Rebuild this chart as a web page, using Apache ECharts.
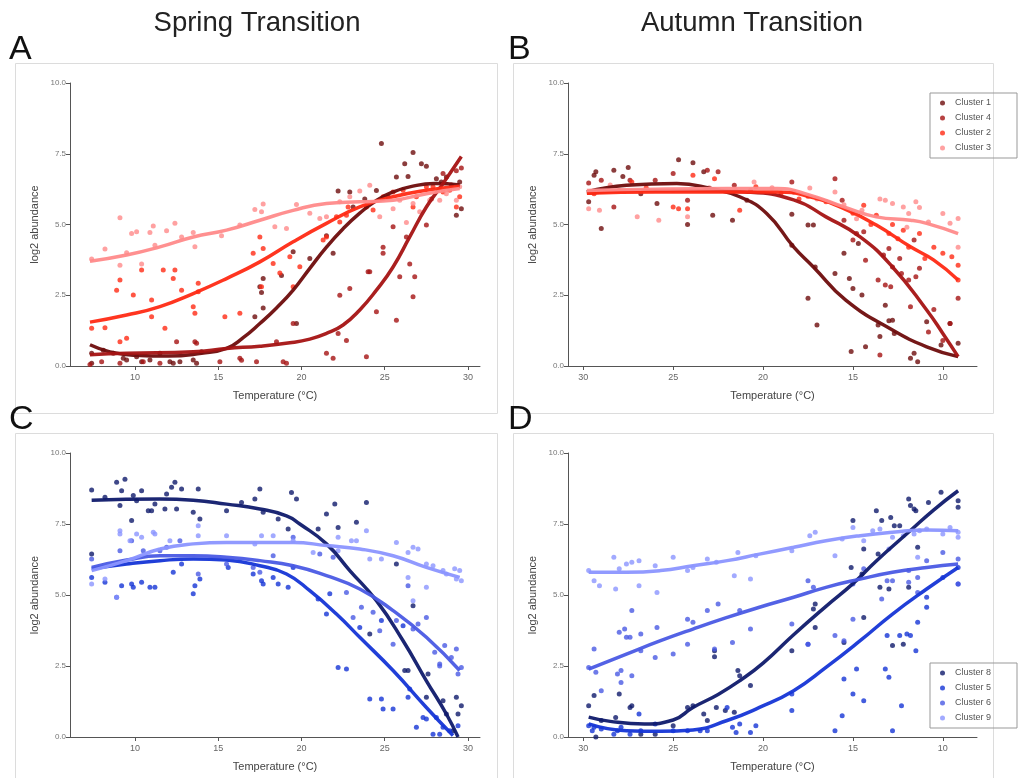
<!DOCTYPE html>
<html><head><meta charset="utf-8">
<script src="https://cdn.jsdelivr.net/npm/echarts@6/dist/echarts.min.js"></script>
<style>html,body{margin:0;padding:0;background:#fff}#c{width:1018px;height:778px}</style>
</head><body><div id="c"></div>
<script>
// ---------- tick labels / names ----------
const xTicks = [10, 15, 20, 25, 30];
const redNames = ['Cluster 1', 'Cluster 4', 'Cluster 2', 'Cluster 3'];
const blueNames = ['Cluster 8', 'Cluster 5', 'Cluster 6', 'Cluster 9'];
const panelTitles = ['Spring Transition', 'Autumn Transition'];
const panelLetters = ['A', 'B', 'C', 'D'];

// ---------- Panel A: spring, red clusters ----------
const springC1Pts = [[7.4,0.45],[7.4,0.1],[8.1,0.56],[8.7,0.45],[9.3,0.27],[9.5,0.21],[10.1,0.33],[10.4,0.15],[10.9,0.21],[11.5,0.45],[12.1,0.15],[12.3,0.1],[12.7,0.15],[13.5,0.21],[13.7,0.1],[14.0,0.5],[17.2,1.74],[17.5,2.8],[17.6,2.6],[17.7,2.05],[17.7,3.09],[18.8,3.2],[19.5,4.04],[19.7,1.5],[20.5,3.8],[21.5,4.6],[21.9,3.98],[22.2,6.18],[22.9,6.15],[23.1,5.62],[23.8,5.9],[24.5,6.2],[24.8,7.86],[25.2,5.98],[25.7,6.68],[26.2,7.15],[26.4,6.7],[26.7,7.54],[27.2,7.15],[27.5,7.06],[28.1,6.62],[28.4,6.5],[28.7,6.68],[29.3,5.33],[29.5,6.5],[29.6,5.56]];
const springC1Fit = [[7.3,0.75],[8.5,0.5],[10,0.38],[12,0.35],[14,0.45],[15.5,0.62],[16.5,1.0],[17.5,1.5],[18.5,2.05],[19.5,2.68],[20.5,3.45],[21.5,4.2],[22.5,4.85],[23.5,5.4],[24.5,5.85],[25.5,6.15],[26.5,6.33],[28,6.45],[29.5,6.4]];
const springC4Pts = [[7.3,0.05],[8.0,0.15],[9.1,0.1],[10.5,0.15],[11.5,0.1],[12.5,0.86],[13.6,0.86],[13.7,0.8],[15.1,0.15],[16.3,0.27],[16.4,0.2],[17.3,0.15],[18.5,0.86],[18.9,0.15],[19.1,0.1],[19.5,1.5],[21.5,0.45],[21.9,0.27],[22.2,1.15],[22.7,0.9],[22.9,2.74],[22.3,2.5],[23.9,0.33],[24.0,3.33],[24.1,3.33],[24.5,1.92],[24.9,3.98],[24.9,4.2],[25.5,4.92],[25.7,1.62],[25.9,3.15],[26.3,4.56],[26.5,3.6],[26.7,2.45],[26.8,3.15],[27.5,4.98],[27.8,5.9],[28.5,6.8],[29.0,6.4],[29.3,6.9],[29.6,7.0]];
const springC4Fit = [[7.3,0.4],[9.5,0.45],[13.5,0.5],[15.5,0.62],[17.5,0.7],[19.3,0.82],[20.5,0.95],[21.5,1.15],[22.5,1.45],[23.5,1.98],[24.5,2.68],[25.5,3.5],[26.5,4.56],[27.5,5.62],[28.5,6.45],[29.6,7.4]];
const springC2Pts = [[7.4,1.33],[8.2,1.35],[9.1,0.86],[9.5,0.98],[9.1,3.04],[8.9,2.68],[9.9,2.51],[10.4,3.39],[11.0,2.33],[11.0,1.74],[11.7,3.39],[11.8,1.33],[12.3,3.09],[12.4,3.39],[12.8,2.68],[13.5,2.09],[13.6,1.86],[13.8,2.62],[13.8,2.92],[15.4,1.74],[16.3,1.86],[17.1,3.98],[17.5,4.56],[17.7,4.15],[17.6,2.8],[18.3,3.62],[18.7,3.29],[19.3,3.86],[19.5,2.8],[19.9,3.51],[21.3,4.45],[21.5,4.56],[22.1,5.27],[22.3,5.09],[22.7,5.33],[22.8,5.62],[23.9,5.62],[24.3,5.51],[24.9,5.98],[25.5,6.15],[26.1,6.21],[26.7,5.62],[26.9,5.98],[27.5,6.33],[27.9,6.33],[28.5,6.15],[28.9,6.21],[29.5,5.98],[29.3,5.62]];
const springC2Fit = [[7.3,1.55],[9.5,1.8],[11.5,2.1],[13.5,2.56],[15.5,3.09],[17.5,3.68],[19.5,4.39],[21.5,5.04],[23.5,5.62],[25.5,5.98],[27.5,6.21],[29.5,6.35]];
const springC3Pts = [[7.4,3.78],[8.2,4.13],[9.1,5.24],[9.1,3.56],[9.5,4.0],[9.8,4.68],[10.1,4.74],[10.4,3.6],[10.9,4.72],[11.1,4.95],[11.2,4.27],[11.9,4.78],[12.4,5.04],[12.8,4.56],[13.5,4.72],[13.6,4.21],[15.2,4.6],[16.3,4.98],[17.2,5.53],[17.7,5.72],[17.6,5.45],[18.4,4.92],[19.1,4.86],[19.7,5.71],[20.5,5.4],[21.1,5.21],[21.5,5.27],[22.3,5.8],[22.9,5.98],[23.5,6.18],[24.1,6.39],[24.7,5.27],[25.5,5.56],[25.9,5.86],[26.3,5.07],[26.7,5.74],[27.1,5.45],[27.7,5.86],[28.3,5.86],[28.7,6.09],[29.3,5.86],[29.5,6.33]];
const springC3Fit = [[7.3,3.7],[9.5,3.92],[11.5,4.21],[13.5,4.56],[15.5,4.8],[17.5,5.15],[19.5,5.5],[21.5,5.74],[23.5,5.8],[25.5,5.86],[27.5,6.09],[29.5,6.27]];

// ---------- Panel B: autumn, red clusters ----------
const autumnC1Pts = [[29.7,5.8],[29.4,6.74],[29.3,6.86],[29.0,4.86],[28.3,6.92],[27.8,6.7],[27.5,7.01],[26.8,6.09],[25.9,5.74],[24.7,7.29],[24.2,5.0],[23.9,7.18],[23.3,6.86],[22.8,5.33],[21.7,5.15],[20.9,5.86],[18.4,5.36],[18.4,4.27],[17.5,4.98],[17.2,4.98],[17.1,3.5],[17.5,2.39],[17.0,1.45],[16.0,3.27],[15.5,3.98],[15.2,3.09],[15.1,0.51],[15.0,2.74],[14.7,4.33],[14.5,2.51],[14.3,0.68],[13.6,1.45],[13.5,1.04],[13.2,2.15],[13.0,1.6],[12.8,1.62],[12.7,1.15],[11.8,0.27],[11.6,0.45],[11.4,0.15],[10.9,1.56],[10.1,0.74],[9.6,1.5],[9.15,0.8]];
const autumnC1Fit = [[29.8,6.15],[27.6,6.39],[24.8,6.45],[22.9,6.27],[21.3,5.98],[19.8,5.39],[18.3,4.21],[17.2,3.5],[15.4,2.33],[12.8,1.27],[10.9,0.68],[9.15,0.33]];
const autumnC4Pts = [[29.7,6.47],[29.0,6.56],[28.3,5.62],[27.4,6.56],[26.0,6.56],[25.0,6.8],[24.2,5.86],[23.1,6.92],[22.5,6.86],[21.6,6.39],[18.4,6.5],[18.3,6.15],[16.0,6.62],[15.6,5.86],[15.5,5.15],[15.0,4.45],[14.8,4.68],[14.4,4.74],[14.3,3.74],[13.6,3.04],[13.5,0.39],[13.3,3.92],[13.2,2.86],[13.0,4.15],[12.9,2.8],[12.8,3.5],[12.4,3.8],[12.3,3.27],[11.9,3.04],[11.8,2.09],[11.6,4.45],[11.5,3.15],[11.3,3.45],[10.8,1.2],[10.5,2.0],[10.0,0.9],[9.6,1.5],[9.15,2.39]];
const autumnC4Fit = [[29.8,6.1],[27,6.2],[24,6.2],[21,6.15],[18.3,5.87],[16.5,5.27],[14.6,4.56],[12.8,3.5],[10.9,1.98],[10.0,1.15],[9.15,0.33]];
const autumnC2Pts = [[29.4,6.09],[28.0,6.2],[27.3,6.5],[26.5,6.3],[25.0,5.62],[24.7,5.56],[24.2,5.56],[23.9,6.74],[22.7,6.62],[21.3,5.5],[20.7,6.2],[20.4,6.33],[19.0,6.1],[18.0,5.9],[17.5,6.0],[16.5,5.8],[15.0,5.4],[14.4,5.68],[14.0,5.0],[13.7,5.33],[13.0,4.68],[12.8,5.0],[12.5,4.5],[12.2,4.8],[11.9,4.2],[11.3,4.68],[11.0,3.8],[10.5,4.2],[10.0,3.98],[9.5,3.86],[9.15,3.56],[9.15,3.04]];
const autumnC2Fit = [[29.8,6.1],[26,6.15],[22,6.15],[19.2,6.15],[17.4,5.98],[15.5,5.56],[13.7,4.98],[11.8,4.21],[10.5,3.74],[9.15,3.04]];
const autumnC3Pts = [[29.7,5.56],[29.1,5.5],[28.5,6.4],[27.0,5.27],[25.8,5.15],[25.0,6.2],[24.2,5.27],[23.0,6.3],[21.5,6.2],[20.5,6.5],[19.5,6.3],[17.4,6.29],[17.0,5.9],[16.0,6.15],[15.5,5.7],[14.8,5.2],[14.5,5.5],[13.5,5.9],[13.2,5.86],[12.8,5.74],[12.2,5.62],[12.0,4.9],[11.9,5.39],[11.5,5.8],[11.3,5.6],[10.8,5.09],[10.0,5.39],[9.6,5.04],[9.15,5.21],[9.15,4.2]];
const autumnC3Fit = [[29.8,6.2],[26,6.25],[22,6.27],[19.2,6.27],[17.4,6.04],[15.5,5.62],[13.7,5.27],[11.8,5.15],[10.9,5.04],[9.15,4.68]];

// ---------- Panel C: spring, blue clusters ----------
const springC8Pts = [[7.4,8.7],[7.4,6.44],[8.2,8.44],[8.9,8.97],[9.1,8.15],[9.2,8.67],[9.4,9.08],[9.8,7.62],[9.9,8.5],[10.1,8.32],[10.4,8.67],[10.8,7.97],[11.0,7.97],[11.2,8.2],[11.8,8.03],[11.9,8.56],[12.2,8.79],[12.4,8.97],[12.5,8.03],[12.8,8.73],[13.5,7.91],[13.8,8.73],[13.9,7.68],[15.5,7.97],[16.4,8.26],[17.2,8.38],[17.5,8.73],[17.7,7.91],[18.6,7.68],[19.2,7.32],[19.4,8.61],[19.7,8.38],[21.0,7.32],[21.5,7.85],[22.0,8.2],[22.2,7.38],[23.3,7.56],[23.9,8.26],[24.1,3.63],[25.7,6.09],[26.7,4.62],[26.2,2.34],[26.4,2.34],[27.5,1.4],[27.6,2.22],[28.5,1.28],[28.7,0.81],[29.1,0.22],[29.3,1.4],[29.4,0.81],[29.6,1.1]];
const springC8Fit = [[7.4,8.34],[11.5,8.38],[13.5,8.34],[15.5,8.2],[17.5,8.03],[19.1,7.79],[19.9,7.5],[21.5,6.8],[22.9,5.86],[24.5,4.8],[26.1,3.39],[27.5,1.98],[28.7,0.81],[29.4,0]];
const springC5Pts = [[7.4,5.62],[8.2,5.45],[8.9,4.92],[9.2,5.33],[9.8,5.39],[9.9,5.27],[10.4,5.45],[10.9,5.27],[11.2,5.27],[12.3,5.8],[12.8,6.09],[13.5,5.04],[13.6,5.33],[13.9,5.56],[15.6,5.97],[17.1,5.74],[17.6,5.5],[17.7,5.39],[18.3,5.62],[18.6,5.39],[19.2,5.27],[19.5,5.97],[21.0,4.86],[21.5,4.33],[21.7,5.04],[22.2,2.45],[22.7,2.39],[23.5,3.86],[24.1,1.34],[24.8,1.34],[24.8,4.1],[24.9,0.99],[25.5,0.99],[26.1,3.92],[26.4,1.4],[26.5,1.69],[26.9,0.34],[27.3,0.69],[27.5,0.63],[27.9,0.1],[28.1,0.69],[28.3,0.1],[28.5,0.34],[28.9,0.22],[29.4,0.4]];
const springC5Fit = [[7.4,5.92],[9.5,6.09],[11.5,6.21],[13.5,6.27],[15.5,6.23],[17.5,6.03],[19.1,5.74],[20.5,5.15],[22.1,4.33],[23.5,3.51],[25.5,2.34],[27.5,1.04],[29.1,0.05]];
const springC6Pts = [[7.4,6.27],[9.1,6.56],[9.8,6.91],[10.5,6.56],[11.5,6.56],[11.9,6.68],[12.7,6.91],[13.8,5.74],[15.5,6.09],[17.1,5.97],[17.5,5.8],[18.3,6.38],[19.5,7.03],[21.1,6.44],[21.9,6.33],[22.7,5.09],[23.1,4.21],[23.6,4.57],[24.3,4.39],[24.7,3.74],[25.5,3.27],[25.7,4.1],[26.4,5.33],[26.7,3.8],[27.0,3.98],[27.5,4.21],[28.0,2.98],[28.3,2.57],[28.3,2.5],[28.6,3.22],[29.0,2.8],[29.3,3.1],[29.4,2.22],[29.6,2.45]];
const springC6Fit = [[7.4,5.97],[9.5,6.23],[11.5,6.38],[13.5,6.38],[15.5,6.33],[17.5,6.21],[19.5,6.03],[21.5,5.68],[23.5,5.21],[25.5,4.45],[27.5,3.51],[29.5,2.34]];
const springC9Pts = [[7.4,5.39],[8.2,5.56],[8.9,4.92],[9.1,7.26],[9.1,7.15],[9.7,6.91],[10.1,7.15],[10.4,7.03],[11.1,7.21],[11.2,7.15],[12.1,6.91],[13.8,7.44],[13.8,7.09],[15.5,7.09],[17.2,6.8],[17.6,7.09],[18.3,7.09],[19.5,6.91],[20.7,6.5],[22.2,7.03],[22.2,6.56],[23.0,6.91],[23.3,6.91],[23.9,7.26],[24.1,6.27],[24.8,6.27],[25.7,6.85],[26.4,6.5],[26.4,5.62],[26.7,6.68],[26.7,4.8],[27.0,6.62],[27.5,6.09],[27.5,5.27],[27.9,6.03],[28.5,5.86],[28.7,5.74],[29.2,5.92],[29.3,5.56],[29.5,5.86],[29.6,5.5]];
const springC9Fit = [[7.4,5.86],[9.5,6.21],[11.5,6.62],[13.5,6.8],[15.5,6.85],[17.5,6.85],[19.5,6.85],[21.5,6.74],[23.5,6.62],[25.5,6.38],[27.5,5.97],[29.5,5.62]];

// ---------- Panel D: autumn, blue clusters ----------
const autumnC8Pts = [[29.7,1.1],[29.4,1.46],[29.3,0.0],[29.0,0.58],[28.2,0.69],[28.0,1.51],[27.4,1.04],[27.3,1.1],[26.8,0.1],[26.0,0.1],[25.0,0.4],[24.2,1.04],[23.9,1.1],[23.3,0.81],[23.1,0.58],[22.7,2.83],[22.7,3.04],[22.6,1.04],[22.1,0.93],[21.6,0.87],[21.4,2.34],[21.3,2.16],[20.7,1.81],[18.4,3.04],[17.2,4.51],[17.1,4.68],[17.1,3.86],[15.5,3.33],[15.1,5.97],[15.0,7.62],[14.5,5.74],[14.4,6.62],[14.4,4.21],[13.7,7.97],[13.6,6.44],[13.5,5.27],[13.4,7.62],[13.0,5.21],[12.9,7.73],[12.8,3.22],[12.7,7.44],[12.4,7.44],[12.2,3.27],[11.9,8.38],[11.9,5.27],[11.8,8.15],[11.6,8.03],[11.5,7.97],[11.4,6.68],[10.8,8.26],[10.1,8.62],[9.15,8.32],[9.15,8.09]];
const autumnC8Fit = [[29.7,0.7],[28.5,0.55],[26.6,0.46],[25,0.6],[23.9,1.04],[22.5,1.5],[21.3,1.98],[20,2.6],[18.3,3.6],[16.5,4.6],[15,5.4],[13.7,6.2],[11.8,7.27],[10.5,8.0],[9.15,8.67]];
const autumnC5Pts = [[29.7,0.4],[29.5,0.22],[29.4,0.34],[29.0,0.28],[28.3,0.1],[28.1,0.22],[27.9,0.34],[27.4,0.1],[26.9,0.81],[26.8,0.22],[26.0,0.46],[25.0,0.22],[24.2,0.22],[23.5,0.22],[23.1,0.22],[22.0,1.04],[21.7,0.34],[21.5,0.16],[21.3,0.46],[20.7,0.16],[20.4,0.4],[18.4,0.93],[18.4,1.51],[17.5,3.27],[16.0,0.22],[15.6,0.75],[15.5,2.04],[15.0,1.51],[14.8,2.39],[14.4,1.28],[13.2,2.39],[13.1,3.57],[13.0,2.1],[12.8,0.22],[12.4,3.57],[12.3,1.1],[12.0,3.63],[11.8,3.57],[11.5,3.04],[11.4,4.04],[10.9,4.57],[10.9,4.92],[10.0,5.62],[9.15,5.39],[9.15,5.97]];
const autumnC5Fit = [[29.7,0.46],[27.6,0.22],[25.7,0.2],[23.9,0.25],[22.0,0.58],[20.2,1.04],[18.3,1.63],[16.5,2.45],[14.6,3.39],[12.8,4.33],[10.9,5.21],[9.15,5.97]];
const autumnC6Pts = [[29.7,2.45],[29.4,3.1],[29.3,2.28],[29.0,1.63],[28.1,2.22],[28.0,3.69],[27.9,2.34],[27.9,1.92],[27.7,3.8],[27.6,3.51],[27.4,3.51],[27.3,4.45],[27.3,2.16],[26.8,3.63],[26.8,3.04],[25.9,3.86],[26.0,2.8],[25.0,2.92],[24.2,4.15],[24.2,3.27],[23.9,4.04],[23.1,4.45],[22.7,3.1],[22.5,4.68],[21.7,3.33],[21.3,4.45],[20.7,3.8],[18.4,3.98],[17.5,5.5],[17.2,5.27],[17.5,3.27],[16.0,3.57],[15.5,3.39],[15.0,5.39],[15.0,4.15],[14.4,5.92],[13.4,4.86],[13.1,5.5],[12.8,5.5],[11.9,5.45],[11.9,5.86],[11.4,5.62],[11.4,5.09],[10.9,6.21],[10.0,6.5],[9.15,5.39],[9.15,6.27]];
const autumnC6Fit = [[29.7,2.39],[27.6,2.92],[25.7,3.39],[23.9,3.8],[22.0,4.21],[20.2,4.57],[18.3,4.92],[16.5,5.27],[14.6,5.56],[12.8,5.8],[10.9,5.97],[9.15,6.09]];
const autumnC9Pts = [[29.7,5.86],[29.4,5.5],[29.1,5.33],[28.3,6.33],[28.2,5.21],[28.0,5.92],[27.6,6.09],[27.3,6.15],[26.9,6.21],[26.9,5.33],[25.9,5.09],[26.0,6.03],[25.0,6.33],[24.2,5.86],[23.9,5.97],[23.1,6.27],[22.6,6.15],[21.6,5.68],[21.4,6.5],[20.7,5.56],[20.4,6.38],[18.4,6.56],[17.4,7.09],[17.1,7.21],[16.0,6.38],[15.6,6.97],[15.0,7.38],[14.4,6.91],[13.9,7.26],[13.5,7.32],[13.0,6.62],[12.8,7.03],[12.2,7.09],[11.6,7.15],[11.4,6.33],[11.3,7.26],[10.9,7.32],[10.0,7.15],[9.6,7.38],[9.15,7.03],[9.15,7.21]];
const autumnC9Fit = [[29.7,5.8],[27.6,5.8],[25.7,5.86],[23.9,6.03],[22.0,6.21],[20.2,6.44],[18.3,6.68],[16.5,6.91],[14.6,7.09],[12.8,7.21],[10.9,7.29],[9.15,7.26]];

// ---------- styles ----------
const redColors = ['#6e0c0c', '#a51313', '#ff2a14', '#ff8a8a'];
const blueColors = ['#0f1a6b', '#1535d6', '#4a5ae4', '#8b95ff'];
const FONT = '"Liberation Sans", Arial, sans-serif';

const panels = [
  { grid: { left: 70, top: 83, width: 410, height: 283 }, min: 6.1, max: 30.72, inverse: false,
    names: redNames, colors: redColors,
    pts: [springC1Pts, springC4Pts, springC2Pts, springC3Pts], fit: [springC1Fit, springC4Fit, springC2Fit, springC3Fit] },
  { grid: { left: 568, top: 83, width: 409, height: 283 }, min: 8.1, max: 30.85, inverse: true,
    names: redNames, colors: redColors,
    pts: [autumnC1Pts, autumnC4Pts, autumnC2Pts, autumnC3Pts], fit: [autumnC1Fit, autumnC4Fit, autumnC2Fit, autumnC3Fit] },
  { grid: { left: 70, top: 453, width: 410, height: 284 }, min: 6.1, max: 30.72, inverse: false,
    names: blueNames, colors: blueColors,
    pts: [springC8Pts, springC5Pts, springC6Pts, springC9Pts], fit: [springC8Fit, springC5Fit, springC6Fit, springC9Fit] },
  { grid: { left: 568, top: 453, width: 409, height: 284 }, min: 8.1, max: 30.85, inverse: true,
    names: blueNames, colors: blueColors,
    pts: [autumnC8Pts, autumnC5Pts, autumnC6Pts, autumnC9Pts], fit: [autumnC8Fit, autumnC5Fit, autumnC6Fit, autumnC9Fit] }
];

const grids = [], xAxes = [], yAxes = [], series = [];
panels.forEach((p, i) => {
  grids.push(p.grid);
  xAxes.push({
    type: 'value', gridIndex: i, min: p.min, max: p.max, inverse: p.inverse,
    name: 'Temperature (°C)', nameLocation: 'middle', nameGap: 24,
    nameTextStyle: { fontFamily: FONT, fontSize: 11, color: '#444' },
    splitLine: { show: false },
    axisLine: { show: true, onZero: false, lineStyle: { color: '#555', width: 1 } },
    axisTick: { show: true, length: 4, customValues: xTicks, lineStyle: { color: '#555' } },
    axisLabel: { customValues: xTicks, fontFamily: FONT, fontSize: 9, color: '#666', margin: 7 }
  });
  yAxes.push({
    type: 'value', gridIndex: i, min: 0, max: 10, interval: 2.5,
    name: 'log2 abundance', nameLocation: 'middle', nameGap: 30,
    nameTextStyle: { fontFamily: FONT, fontSize: 11, color: '#444' },
    splitLine: { show: false },
    axisLine: { show: true, lineStyle: { color: '#555', width: 1 } },
    axisTick: { show: true, length: 4, lineStyle: { color: '#555' } },
    axisLabel: { formatter: v => v.toFixed(1), fontFamily: FONT, fontSize: 8, color: '#777', margin: 4 }
  });
  p.names.forEach((nm, k) => {
    series.push({
      type: 'scatter', name: nm, xAxisIndex: i, yAxisIndex: i, data: p.pts[k],
      symbol: 'circle', symbolSize: 5, itemStyle: { color: p.colors[k] }, z: 2, silent: true
    });
  });
  p.names.forEach((nm, k) => {
    series.push({
      type: 'line', name: nm, xAxisIndex: i, yAxisIndex: i, data: p.fit[k],
      smooth: 0.5, showSymbol: false, symbol: 'none',
      lineStyle: { color: p.colors[k], width: 3.5, opacity: 0.95 }, itemStyle: { color: p.colors[k] },
      z: 3, silent: true
    });
  });
});

function legendFor(names, top) {
  return {
    orient: 'vertical', left: 930, top: top, itemGap: 5, itemWidth: 5, itemHeight: 5,
    icon: 'circle', data: names, selectedMode: false,
    borderColor: '#999', borderWidth: 1, padding: [5, 26, 5, 10],
    textStyle: { fontFamily: FONT, fontSize: 9, color: '#555', padding: [0, 0, 0, 5], lineHeight: 10 }
  };
}

const frameStyle = { fill: 'none', stroke: '#dcdcdc', lineWidth: 1 };
const graphics = [
  { type: 'rect', shape: { x: 15.5, y: 63.5, width: 482, height: 350 }, style: frameStyle, z: 0 },
  { type: 'rect', shape: { x: 513.5, y: 63.5, width: 480, height: 350 }, style: frameStyle, z: 0 },
  { type: 'rect', shape: { x: 15.5, y: 433.5, width: 482, height: 400 }, style: frameStyle, z: 0 },
  { type: 'rect', shape: { x: 513.5, y: 433.5, width: 480, height: 400 }, style: frameStyle, z: 0 },
  { type: 'text', style: { text: panelTitles[0], x: 257, y: 23, textAlign: 'center', textVerticalAlign: 'middle', font: '27.5px ' + FONT, fill: '#222' } },
  { type: 'text', style: { text: panelTitles[1], x: 752, y: 23, textAlign: 'center', textVerticalAlign: 'middle', font: '27.5px ' + FONT, fill: '#222' } },
  { type: 'text', style: { text: panelLetters[0], x: 9, y: 50, textAlign: 'left', textVerticalAlign: 'middle', font: '34px ' + FONT, fill: '#111' } },
  { type: 'text', style: { text: panelLetters[1], x: 508, y: 50, textAlign: 'left', textVerticalAlign: 'middle', font: '34px ' + FONT, fill: '#111' } },
  { type: 'text', style: { text: panelLetters[2], x: 9, y: 420, textAlign: 'left', textVerticalAlign: 'middle', font: '34px ' + FONT, fill: '#111' } },
  { type: 'text', style: { text: panelLetters[3], x: 508, y: 420, textAlign: 'left', textVerticalAlign: 'middle', font: '34px ' + FONT, fill: '#111' } }
];

const chart = echarts.init(document.getElementById('c'), null, { renderer: 'canvas' });
chart.setOption({
  backgroundColor: '#fff',
  animation: false,
  textStyle: { fontFamily: FONT },
  grid: grids, xAxis: xAxes, yAxis: yAxes,
  legend: [legendFor(redNames, 93), legendFor(blueNames, 663)],
  graphic: graphics,
  series: series
});
</script></body></html>
